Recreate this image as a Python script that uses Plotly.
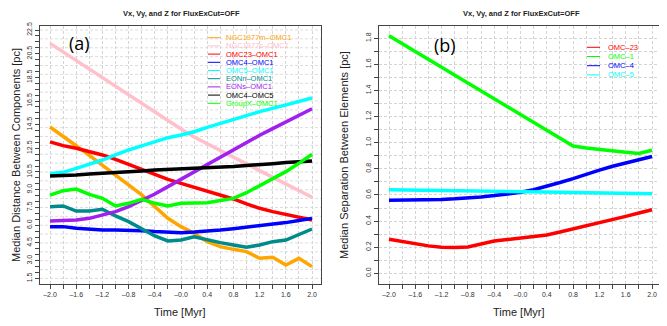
import numpy as np
import plotly.graph_objects as go

# time axis shared by both panels [Myr]
time = np.round(np.arange(-2.0, 2.01, 0.2), 1)

# panel (a): median distance between components [pc]
ngc1977m_omc1 = [14.3, 13.54, 12.72, 11.9, 11.06, 10.25, 9.37, 8.56, 7.57, 6.58, 5.88,
                 5.32, 4.61, 4.19, 3.96, 3.77, 3.2, 3.29, 2.64, 3.2, 2.5]
ngc1977s_omc1 = [21.37, 20.64, 19.9, 19.18, 18.47, 17.74, 17.0, 16.27, 15.57, 14.84, 14.13,
                 13.46, 12.87, 12.3, 11.74, 11.18, 10.61, 10.05, 9.49, 8.92, 8.36]
omc23_omc1 = [13.05, 12.73, 12.5, 12.22, 11.94, 11.57, 11.15, 10.73, 10.3, 9.88, 9.54,
              9.2, 8.92, 8.56, 8.22, 7.8, 7.43, 7.15, 6.92, 6.67, 6.44]
omc4_omc1 = [5.87, 5.88, 5.74, 5.65, 5.6, 5.6, 5.6, 5.54, 5.46, 5.4, 5.37,
             5.43, 5.49, 5.6, 5.71, 5.82, 5.94, 6.08, 6.22, 6.39, 6.58]
omc5_omc1 = [10.35, 10.47, 10.81, 11.15, 11.51, 11.94, 12.36, 12.7, 13.06, 13.4, 13.63,
             13.9, 14.27, 14.61, 14.98, 15.32, 15.6, 15.88, 16.16, 16.5, 16.75]
eonn_omc1 = [7.56, 7.63, 7.2, 7.2, 7.35, 6.78, 6.3, 5.68, 5.09, 4.67, 4.75,
             5.03, 4.75, 4.53, 4.33, 4.13, 4.33, 4.61, 4.75, 5.18, 5.68]
eons_omc1 = [6.36, 6.39, 6.44, 6.58, 6.84, 7.15, 7.57, 8.08, 8.64, 9.26, 9.88,
             10.53, 11.18, 11.8, 12.42, 13.01, 13.6, 14.16, 14.7, 15.26, 15.85]
omc4_omc5 = [10.15, 10.17, 10.25, 10.33, 10.38, 10.45, 10.53, 10.58, 10.66, 10.7, 10.76,
             10.82, 10.88, 10.93, 10.97, 11.05, 11.1, 11.2, 11.3, 11.38, 11.43]
groupx_omc1 = [8.55, 8.92, 9.06, 8.61, 8.27, 7.63, 7.85, 8.19, 7.85, 7.63, 7.85,
               7.9, 7.9, 8.08, 8.27, 8.75, 9.32, 9.88, 10.53, 11.23, 12.0]

left_names = ["NGC1977m–OMC1", "NGC1977s–OMC1", "OMC23–OMC1", "OMC4–OMC1", "OMC5–OMC1",
              "EONn–OMC1", "EONs–OMC1", "OMC4–OMC5", "GroupX–OMC1"]
left_colors = ["#FFA500", "#FFC0CB", "#FF0000", "#0000FF", "#00FFFF",
               "#008B8B", "#A020F0", "#000000", "#00FF00"]
left_series = [ngc1977m_omc1, ngc1977s_omc1, omc23_omc1, omc4_omc1, omc5_omc1,
               eonn_omc1, eons_omc1, omc4_omc5, groupx_omc1]

# panel (b): median separation between elements [pc]
omc_23 = [0.26, 0.242, 0.225, 0.21, 0.2, 0.197, 0.202, 0.227, 0.247, 0.258, 0.268,
          0.28, 0.293, 0.316, 0.339, 0.362, 0.388, 0.411, 0.436, 0.462, 0.487]
omc_1 = [1.82, 1.76, 1.70, 1.64, 1.58, 1.52, 1.46, 1.40, 1.34, 1.28, 1.22,
         1.16, 1.10, 1.04, 0.975, 0.96, 0.947, 0.937, 0.927, 0.917, 0.942]
omc_4 = [0.56, 0.56, 0.56, 0.562, 0.565, 0.57, 0.575, 0.585, 0.595, 0.607, 0.62,
         0.64, 0.665, 0.695, 0.725, 0.76, 0.79, 0.82, 0.845, 0.87, 0.895]
omc_5 = [0.64, 0.638, 0.637, 0.635, 0.634, 0.632, 0.631, 0.629, 0.628, 0.626, 0.625,
         0.623, 0.622, 0.62, 0.619, 0.617, 0.616, 0.614, 0.613, 0.611, 0.61]

right_names = ["OMC–23", "OMC–1", "OMC–4", "OMC–5"]
right_colors = ["#FF0000", "#00FF00", "#0000FF", "#00FFFF"]
right_series = [omc_23, omc_1, omc_4, omc_5]

# tick labels
x_ticktext = [("%.1f" % t).replace("-", "–") if i % 2 == 0 else "" for i, t in enumerate(time)]
left_yticks = np.round(np.arange(1.5, 22.51, 0.5), 1)
left_ylabels = [22.5, 20.5, 18.5, 16.5, 14.5, 12.5, 10.5, 9.0, 7.5, 6.0, 4.5, 3.0, 1.5]
left_yticktext = ["%.1f" % v if v in left_ylabels else "" for v in left_yticks]
right_yticks = np.round(np.arange(0.0, 1.81, 0.1), 1)
right_yticktext = ["%.1f" % v if i % 2 == 0 else "" for i, v in enumerate(right_yticks)]

# the page body has an 8px margin, so the figure is drawn 8px smaller and
# everything below is laid out in page pixels of the 667x326 window
PAGE_OFF = 8
W, H = 667 - PAGE_OFF, 326 - PAGE_OFF
BOX_L, BOX_R, BOX_T, BOX_B = 40, 659, 26, 284
PW, PH = BOX_R - BOX_L, BOX_B - BOX_T


def px(x):
    return (x - BOX_L) / PW


def py(y):
    return (BOX_B - y) / PH


FONT = "Liberation Sans"
BOX = "#444444"
GRID = "#d4d4d4"
GRID_DASH = "3px,2px"

fig = go.Figure()
for name, color, vals in zip(left_names, left_colors, left_series):
    fig.add_trace(go.Scatter(x=time, y=vals, mode="lines", name=name,
                             line=dict(color=color, width=3.5),
                             xaxis="x", yaxis="y", showlegend=False))
for name, color, vals in zip(right_names, right_colors, right_series):
    fig.add_trace(go.Scatter(x=time, y=vals, mode="lines", name=name,
                             line=dict(color=color, width=3.5),
                             xaxis="x2", yaxis="y2", showlegend=False))

axis_common = dict(showline=True, linecolor=BOX, linewidth=1, mirror=True,
                   ticks="outside", ticklen=4, tickcolor=BOX, zeroline=False,
                   automargin=False,
                   tickfont=dict(family=FONT, size=7, color="#333333"))
grid_common = dict(showgrid=True, gridcolor=GRID, gridwidth=0.8, griddash=GRID_DASH)

fig.update_layout(
    width=W, height=H,
    margin=dict(l=BOX_L - PAGE_OFF, r=667 - BOX_R, t=BOX_T - PAGE_OFF, b=326 - BOX_B),
    paper_bgcolor="white", plot_bgcolor="white",
    xaxis=dict(domain=[0, px(321)], range=[-2.153, 2.137], anchor="y",
               tickmode="array", tickvals=time, ticktext=x_ticktext,
               **axis_common, **grid_common),
    yaxis=dict(domain=[0, 1], range=[1.03, 22.84], anchor="x",
               tickmode="array", tickvals=left_yticks, ticktext=left_yticktext,
               tickangle=-90, showgrid=False, **axis_common),
    xaxis2=dict(domain=[px(379), 1], range=[-2.152, 2.106], anchor="y2",
                tickmode="array", tickvals=time, ticktext=x_ticktext,
                **axis_common, **grid_common),
    yaxis2=dict(domain=[0, 1], range=[-0.082, 1.894], anchor="x2",
                tickmode="array", tickvals=right_yticks, ticktext=right_yticktext,
                tickangle=-90, **axis_common, **grid_common),
)

# horizontal grid of panel (a): 30 divisions of the plotting region
shapes = []
for g in np.arange(1.5, 22.6, 0.75):
    shapes.append(dict(type="line", xref="x domain", yref="y", x0=0, x1=1, y0=g, y1=g,
                       line=dict(color=GRID, width=0.8, dash=GRID_DASH), layer="below"))

annotations = []


def label(text, x, y, size, color="#222222", family=FONT, xanchor="center", angle=0):
    annotations.append(dict(text=text, x=px(x), y=py(y), xref="paper", yref="paper",
                            xanchor=xanchor, yanchor="middle", textangle=angle,
                            showarrow=False, font=dict(family=family, size=size, color=color)))


# panel titles
for cx in (181, 521):
    label("<b>Vx, Vy, and Z for FluxExCut=OFF</b>", cx, 14, 7.5)
# axis titles
for cx in (180, 519):
    label("Time [Myr]", cx, 312, 11)
label("Median Distance Between Components [pc]", 16, 155, 11, angle=-90)
label("Median Separation Between Elements [pc]", 344, 155, 11, angle=-90)
# panel letters
label("(a)", 79, 43, 18, color="black", family="Open Sans")
label("(b)", 445, 45, 18, color="black", family="Open Sans")

# hand-drawn legends, text coloured like the series
for i, (name, color) in enumerate(zip(left_names, left_colors)):
    ry = 37.7 + i * 8.2
    shapes.append(dict(type="line", xref="paper", yref="paper", x0=px(208), x1=px(220),
                       y0=py(ry), y1=py(ry), line=dict(color=color, width=1)))
    label(name, 224, ry, 7.5, color=color, xanchor="left")
for i, (name, color) in enumerate(zip(right_names, right_colors)):
    ry = 47.3 + i * 9.2
    shapes.append(dict(type="line", xref="paper", yref="paper", x0=px(587), x1=px(600),
                       y0=py(ry), y1=py(ry), line=dict(color=color, width=1)))
    label(name, 606, ry, 7.5, color=color, xanchor="left")

fig.update_layout(shapes=shapes, annotations=annotations)

fig.write_html("out.html")
